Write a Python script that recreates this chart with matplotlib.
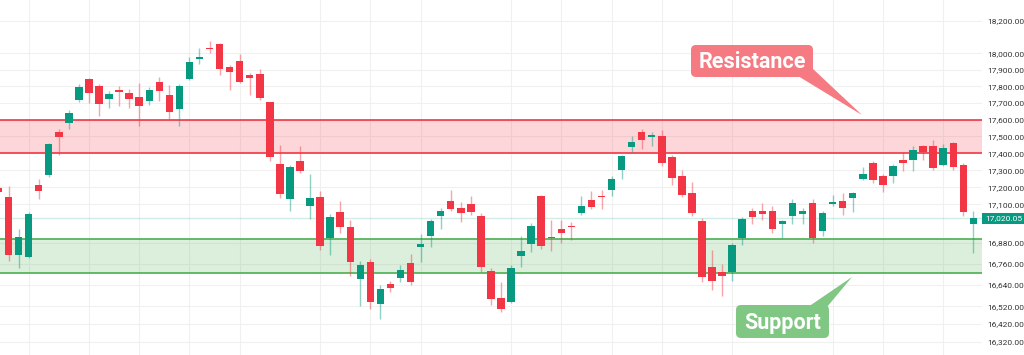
import matplotlib
matplotlib.use("Agg")
import matplotlib.pyplot as plt
import matplotlib.patches as mpatches
import matplotlib.transforms as mtransforms
from matplotlib.ticker import FixedLocator, FuncFormatter, NullLocator, NullFormatter
import numpy as np

# daily candles, oldest first
opens = [17195, 17142, 16810, 16799, 17214, 17270, 17523, 17577, 17714, 17846,
         17802, 17722, 17778, 17760, 17734, 17708, 17828, 17744, 17660, 17844,
         17963, 18034, 18055, 17915, 17953, 17868, 17876, 17702, 17337, 17129,
         17354, 17090, 17141, 16905, 17056, 16972, 16673, 16767, 16533, 16645,
         16679, 16763, 16853, 16918, 17033, 17119, 17081, 17100, 17033, 16720,
         16565, 16542, 16804, 16870, 17148, 16912, 16956, 16976, 17052, 17125,
         17148, 17183, 17302, 17438, 17525, 17498, 17500, 17376, 17264, 17168,
         17004, 16739, 16711, 16714, 16909, 17061, 17065, 17065, 16987, 17033,
         17043, 17110, 16946, 17104, 17119, 17135, 17249, 17343, 17264, 17264,
         17358, 17362, 17440, 17440, 17333, 17462, 17333, 16985]
highs = [17210, 17206, 16960, 17056, 17251, 17460, 17545, 17658, 17814, 17852,
         17814, 17774, 17804, 17786, 17818, 17794, 17856, 17808, 17814, 17980,
         18031, 18075, 18065, 17929, 17996, 17882, 17903, 17706, 17450, 17333,
         17440, 17280, 17177, 17043, 17119, 17010, 16776, 16786, 16640, 16662,
         16752, 16814, 16927, 17014, 17081, 17187, 17113, 17152, 17048, 16733,
         16658, 16752, 16918, 16995, 17158, 17008, 17008, 16997, 17152, 17177,
         17187, 17268, 17391, 17500, 17543, 17525, 17539, 17390, 17304, 17232,
         17020, 16837, 16761, 16880, 17029, 17081, 17106, 17090, 17010, 17129,
         17077, 17129, 17061, 17158, 17168, 17174, 17317, 17356, 17280, 17337,
         17405, 17440, 17450, 17480, 17456, 17466, 17343, 17061]
lows = [17160, 16776, 16733, 16795, 17129, 17261, 17391, 17545, 17702, 17696,
        17623, 17666, 17682, 17666, 17559, 17688, 17708, 17605, 17559, 17838,
        17933, 18004, 17868, 17778, 17818, 17744, 17718, 17352, 17139, 17061,
        17284, 17014, 16838, 16808, 16937, 16691, 16524, 16505, 16450, 16599,
        16658, 16640, 16767, 16857, 16956, 17061, 16998, 17041, 16714, 16527,
        16490, 16538, 16742, 16827, 16842, 16833, 16876, 16895, 17041, 17075,
        17071, 17152, 17249, 17409, 17427, 17440, 17323, 17216, 17145, 17033,
        16658, 16613, 16579, 16660, 16864, 16985, 17010, 16937, 16909, 16985,
        16985, 16876, 16918, 17090, 17037, 17056, 17241, 17226, 17174, 17226,
        17294, 17294, 17362, 17300, 17323, 17304, 17033, 16823]
closes = [17173, 16810, 16914, 17047, 17177, 17455, 17498, 17638, 17794, 17760,
          17690, 17752, 17762, 17724, 17682, 17778, 17768, 17642, 17804, 17949,
          17980, 18028, 17905, 17887, 17824, 17852, 17730, 17378, 17160, 17317,
          17298, 17139, 16861, 17027, 16972, 16767, 16752, 16542, 16617, 16621,
          16725, 16654, 16874, 17002, 17061, 17075, 17048, 17058, 16744, 16561,
          16505, 16736, 16835, 16975, 16861, 16906, 16933, 16970, 17090, 17087,
          17142, 17251, 17382, 17468, 17480, 17505, 17343, 17255, 17158, 17048,
          16683, 16664, 16691, 16867, 17014, 17029, 17046, 16956, 17006, 17110,
          17061, 16909, 17052, 17116, 17077, 17164, 17280, 17245, 17216, 17327,
          17343, 17421, 17407, 17314, 17431, 17320, 17056, 17020.05]

last_price = 17020.05
resistance = (17400, 17600)
support = (16710, 16900)
price_ticks = [18200, 18000, 17900, 17800, 17700, 17600, 17500, 17400, 17300,
               17200, 17100, 16880, 16760, 16640, 16520, 16420, 16320]
vgrid_days = [3, 9, 14, 19, 24, 32, 37, 42, 51, 56, 61, 66, 73, 83, 88, 94]

UP = "#089981"
DOWN = "#F23645"
W, H = 1024, 355

fig = plt.figure(figsize=(W / 100, H / 100), dpi=100)
fig.patch.set_facecolor("white")
ax = fig.add_axes([0, 0, 982 / W, 1])
ax.set_yscale("log")

x = np.arange(len(opens))
o = np.array(opens)
c = np.array(closes)
colors = [UP if cc >= oo else DOWN for oo, cc in zip(o, c)]

# zones
ax.axhspan(*resistance, color=DOWN, alpha=0.2, lw=0, zorder=1)
for v in resistance:
    ax.axhline(v, color=DOWN, lw=1.2, zorder=2)
ax.axhspan(*support, color="#4CAF50", alpha=0.2, lw=0, zorder=1)
for v in support:
    ax.axhline(v, color="#4CAF50", lw=1.2, zorder=2)

# grid
for d in vgrid_days:
    ax.axvline(d, color="#F0F0F0", lw=0.8, zorder=0)
ax.grid(axis="y", color="#F0F0F0", lw=0.8, zorder=0)
ax.set_axisbelow(True)

# last price line
ax.axhline(last_price, color=UP, alpha=0.18, lw=1, zorder=2)

# candles
ax.vlines(x, lows, highs, colors=colors, lw=1, alpha=0.45, zorder=3)
body = np.maximum(np.abs(c - o), 5)
ax.bar(x, body, bottom=np.minimum(o, c), width=0.74, color=colors, lw=0, zorder=4)

ax.set_xlim(0.15, 97.86)
ax.set_ylim(16249, 18328)
for s in ax.spines.values():
    s.set_visible(False)
ax.xaxis.set_visible(False)
ax.yaxis.tick_right()
ax.yaxis.set_major_locator(FixedLocator(price_ticks))
ax.yaxis.set_minor_locator(NullLocator())
ax.yaxis.set_minor_formatter(NullFormatter())
ax.yaxis.set_major_formatter(FuncFormatter(lambda v, _: f"{v:,.2f}"))
ax.tick_params(axis="y", length=0, pad=4, labelsize=6, labelcolor="#333333")
for lab in ax.get_yticklabels():
    lab.set_family(["Roboto", "DejaVu Sans"])

# last price tag
trans = mtransforms.blended_transform_factory(ax.transAxes, ax.transData)
ax.text(1.003, last_price, f"{last_price:,.2f}", transform=trans, ha="left",
        va="center", fontsize=6, color="white", family=["Roboto", "DejaVu Sans"],
        bbox=dict(boxstyle="square,pad=0.3", fc=UP, ec="none"), clip_on=False)

# callouts (image pixel coordinates, y down)
pxT = mtransforms.Affine2D().scale(1 / W, -1 / H).translate(0, 1) + fig.transFigure


def callout(x0, y0, w, h, tri, text, fc):
    fig.add_artist(mpatches.Polygon(tri, closed=True, fc=fc, ec="none", transform=pxT))
    fig.add_artist(mpatches.FancyBboxPatch((x0, y0), w, h,
                                           boxstyle="round,pad=0,rounding_size=5",
                                           fc=fc, ec="none", transform=pxT))
    fig.text(x0 + w / 2, y0 + h / 2 + 1, text, transform=pxT, ha="center", va="center",
             color="white", fontsize=15.5, fontweight="bold",
             family=["Roboto", "DejaVu Sans"])


callout(691, 45, 122, 32, [(798, 76), (812, 68), (862, 115)], "Resistance", "#F57A82")
callout(736, 305, 93, 33, [(808, 307), (827, 307), (852, 277)], "Support", "#81C784")

fig.savefig("out.png", dpi=100, facecolor="white")
